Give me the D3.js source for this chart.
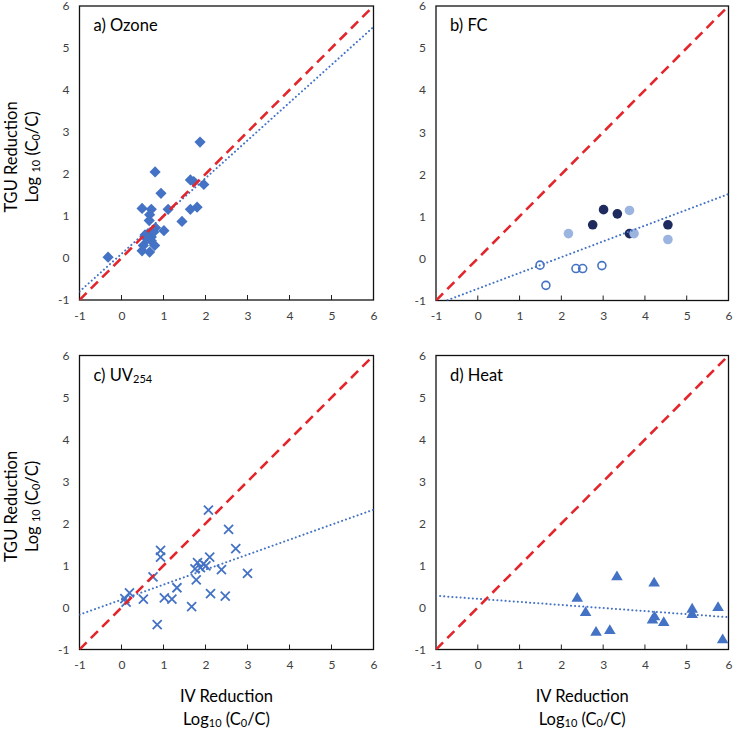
<!DOCTYPE html>
<html>
<head>
<meta charset="utf-8">
<script src="https://cdn.jsdelivr.net/npm/d3@7"></script>
<style>
  html, body { margin: 0; padding: 0; background: #fff; }
  svg { display: block; }
  text { font-family: Lato, "Open Sans", "DejaVu Sans", sans-serif; }
</style>
</head>
<body>
<svg id="chart" width="733" height="730"></svg>
<script>
// ---------- DATA ----------
const axisTicks = [-1, 0, 1, 2, 3, 4, 5, 6];
const panelLabels = ["a) Ozone", "b) FC", "c) UV", "d) Heat"];
const panelLabelSubs = ["", "", "254", ""];

const ozoneX = [-0.32, 0.80, 1.87, 0.94, 1.64, 1.72, 1.96, 1.11, 1.64, 1.80, 0.49, 0.71, 0.67, 0.66, 1.44, 1.01, 0.81, 0.56, 0.63, 0.71, 0.77, 0.52, 0.71, 0.79, 0.49, 0.67, 0.61];
const ozoneY = [0.02, 2.05, 2.76, 1.54, 1.86, 1.82, 1.75, 1.16, 1.16, 1.21, 1.18, 1.16, 1.03, 0.89, 0.87, 0.65, 0.72, 0.55, 0.58, 0.50, 0.62, 0.30, 0.41, 0.30, 0.17, 0.14, 0.45];

const fcDarkX = [2.75, 3.01, 3.34, 3.63, 4.55];
const fcDarkY = [0.80, 1.16, 1.06, 0.59, 0.80];
const fcLightX = [2.17, 3.63, 3.74, 4.55];
const fcLightY = [0.59, 1.14, 0.59, 0.45];
const fcOpenX = [1.49, 1.63, 2.35, 2.51, 2.97];
const fcOpenY = [-0.16, -0.64, -0.24, -0.24, -0.17];

const uvX = [2.07, 2.55, 2.72, 3.00, 0.93, 0.93, 0.75, 2.10, 1.81, 1.95, 1.75, 1.88, 2.01, 2.38, 1.78, 2.12, 2.47, 1.32, 1.02, 1.20, 0.52, 0.19, 0.08, 0.11, 1.67, 0.85];
const uvY = [2.32, 1.86, 1.40, 0.81, 1.36, 1.20, 0.73, 1.20, 1.07, 1.04, 0.92, 0.95, 0.99, 0.90, 0.66, 0.33, 0.27, 0.47, 0.23, 0.20, 0.20, 0.35, 0.21, 0.13, 0.02, -0.41];

const heatX = [2.38, 2.58, 2.83, 3.16, 3.33, 4.22, 4.18, 4.23, 4.45, 5.13, 5.13, 5.75, 5.86];
const heatY = [0.24, -0.10, -0.57, -0.53, 0.75, 0.60, -0.28, -0.20, -0.34, -0.02, -0.15, 0.02, -0.75];

// fitted trend lines (slope, intercept)
const trendSlopes = [0.90, 0.375, 0.357, -0.073];
const trendIntercepts = [0.10, -0.72, 0.187, 0.207];

// ---------- DRAW ----------
const svg = d3.select("#chart");
const BLUE = "#4472C4", NAVY = "#1F2B5E", LIGHT = "#9BB4E0", RED = "#E3262B";
const TICKCOL = "#404040";

const panels = [
  {x0: 79.5, x1: 373.5, y0: 300, y1: 6},
  {x0: 436, x1: 728.5, y0: 300.5, y1: 6},
  {x0: 79.5, x1: 373.5, y0: 649.5, y1: 355.5},
  {x0: 436, x1: 728.5, y0: 649.5, y1: 355.5}
];

const diamond = r => `M0,${-r}L${r},0L0,${r}L${-r},0Z`;
const triangle = `M0,-5.5L5.8,4.3L-5.8,4.3Z`;

panels.forEach((p, i) => {
  const x = d3.scaleLinear().domain([-1, 6]).range([p.x0, p.x1]);
  const y = d3.scaleLinear().domain([-1, 6]).range([p.y0, p.y1]);
  const g = svg.append("g");

  const clipId = "clip" + i;
  svg.append("clipPath").attr("id", clipId).append("rect")
    .attr("x", p.x0).attr("y", p.y1).attr("width", p.x1 - p.x0).attr("height", p.y0 - p.y1);

  // x axis tick labels & ticks (inside)
  const xa = d3.axisBottom(x).tickValues(axisTicks).tickSize(0).tickPadding(11)
    .tickFormat(d => String(d));
  const gx = g.append("g").attr("transform", `translate(0,${p.y0})`).call(xa);
  gx.select(".domain").remove();
  gx.selectAll("text").attr("fill", TICKCOL).attr("font-size", 12).attr("font-family", "Lato, sans-serif");
  g.selectAll(".xt").data(axisTicks.slice(1, -1)).enter().append("line")
    .attr("x1", d => x(d)).attr("x2", d => x(d))
    .attr("y1", p.y0).attr("y2", p.y0 - 5)
    .attr("stroke", "#222").attr("stroke-width", 1);

  const ya = d3.axisLeft(y).tickValues(axisTicks).tickSize(0).tickPadding(10)
    .tickFormat(d => String(d));
  const gy = g.append("g").attr("transform", `translate(${p.x0},0)`).call(ya);
  gy.select(".domain").remove();
  gy.selectAll("text").attr("fill", TICKCOL).attr("font-size", 12).attr("font-family", "Lato, sans-serif");

  // frame
  g.append("rect").attr("x", p.x0).attr("y", p.y1)
    .attr("width", p.x1 - p.x0).attr("height", p.y0 - p.y1)
    .attr("fill", "none").attr("stroke", "#111").attr("stroke-width", 1.3);

  // markers
  const pts = g.append("g");
  if (i === 0) {
    pts.selectAll("path").data(ozoneX.map((v, k) => [v, ozoneY[k]])).enter().append("path")
      .attr("d", diamond(5.6))
      .attr("transform", d => `translate(${x(d[0])},${y(d[1])})`)
      .attr("fill", BLUE);
  } else if (i === 1) {
    pts.selectAll(".dk").data(fcDarkX.map((v, k) => [v, fcDarkY[k]])).enter().append("circle")
      .attr("cx", d => x(d[0])).attr("cy", d => y(d[1])).attr("r", 4.8).attr("fill", NAVY);
    pts.selectAll(".lt").data(fcLightX.map((v, k) => [v, fcLightY[k]])).enter().append("circle")
      .attr("cx", d => x(d[0])).attr("cy", d => y(d[1])).attr("r", 4.8).attr("fill", LIGHT);
    pts.selectAll(".op").data(fcOpenX.map((v, k) => [v, fcOpenY[k]])).enter().append("circle")
      .attr("cx", d => x(d[0])).attr("cy", d => y(d[1])).attr("r", 4)
      .attr("fill", "none").attr("stroke", BLUE).attr("stroke-width", 1.6);
  } else if (i === 2) {
    pts.selectAll("path").data(uvX.map((v, k) => [v, uvY[k]])).enter().append("path")
      .attr("d", "M-4.5,-4.5L4.5,4.5M-4.5,4.5L4.5,-4.5")
      .attr("transform", d => `translate(${x(d[0])},${y(d[1])})`)
      .attr("stroke", BLUE).attr("stroke-width", 1.8).attr("fill", "none");
  } else {
    pts.selectAll("path").data(heatX.map((v, k) => [v, heatY[k]])).enter().append("path")
      .attr("d", triangle)
      .attr("transform", d => `translate(${x(d[0])},${y(d[1])})`)
      .attr("fill", BLUE);
  }

  // lines
  const lines = g.append("g").attr("clip-path", `url(#${clipId})`);
  const s = trendSlopes[i], b = trendIntercepts[i];
  lines.append("line")
    .attr("x1", x(-1)).attr("y1", y(s * -1 + b))
    .attr("x2", x(6)).attr("y2", y(s * 6 + b))
    .attr("stroke", BLUE).attr("stroke-width", 2)
    .attr("stroke-dasharray", "0.1 4").attr("stroke-linecap", "round");
  lines.append("line")
    .attr("x1", x(-1)).attr("y1", y(-1)).attr("x2", x(6)).attr("y2", y(6))
    .attr("stroke", RED).attr("stroke-width", 2.6)
    .attr("stroke-dasharray", "10 6");

  // panel label
  const t = g.append("text").attr("x", x(-1) + 14).attr("y", p.y1 + 25)
    .attr("font-size", 16.5).attr("fill", "#000").text(panelLabels[i]);
  if (panelLabelSubs[i]) {
    t.append("tspan").attr("font-size", 11).attr("dy", 2).text(panelLabelSubs[i]);
  }

  // axis titles
  if (i === 0 || i === 2) {
    const cy = (p.y0 + p.y1) / 2 + 4;
    svg.append("text").attr("transform", `translate(17,${cy}) rotate(-90)`)
      .attr("text-anchor", "middle").attr("font-size", 16.5).attr("fill", "#000")
      .text("TGU Reduction");
    const t2 = svg.append("text").attr("transform", `translate(38,${cy}) rotate(-90)`)
      .attr("text-anchor", "middle").attr("font-size", 16.5).attr("fill", "#000");
    t2.append("tspan").text("Log ");
    t2.append("tspan").attr("font-size", 11).attr("dy", 2).text("10");
    t2.append("tspan").attr("dy", -2).text(" (C");
    t2.append("tspan").attr("font-size", 11).attr("dy", 2).text("0");
    t2.append("tspan").attr("dy", -2).text("/C)");
  }
  if (i === 2 || i === 3) {
    const cx = (p.x0 + p.x1) / 2;
    svg.append("text").attr("x", cx).attr("y", 702)
      .attr("text-anchor", "middle").attr("font-size", 16.5).attr("fill", "#000")
      .text("IV Reduction");
    const t3 = svg.append("text").attr("x", cx).attr("y", 725)
      .attr("text-anchor", "middle").attr("font-size", 16.5).attr("fill", "#000");
    t3.append("tspan").text("Log");
    t3.append("tspan").attr("font-size", 11).attr("dy", 2).text("10");
    t3.append("tspan").attr("dy", -2).text(" (C");
    t3.append("tspan").attr("font-size", 11).attr("dy", 2).text("0");
    t3.append("tspan").attr("dy", -2).text("/C)");
  }
});
</script>
</body>
</html>
